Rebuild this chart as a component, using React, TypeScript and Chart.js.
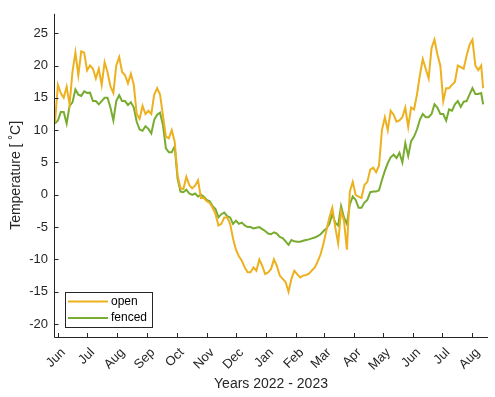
import React, { useEffect, useRef } from "react";
import { Chart, registerables } from "chart.js";

Chart.register(...registerables);

// Days counted from 1 June 2022
const days = [
  -3, 0, 3, 6, 9, 12, 15, 18, 21, 24, 27, 30, 33, 36, 39, 42, 45, 48, 51, 54,
  57, 60, 63, 66, 69, 72, 75, 78, 81, 84, 87, 90, 93, 96, 99, 102, 105, 108, 111, 114,
  117, 120, 123, 126, 129, 132, 135, 138, 141, 144, 147, 150, 153, 156, 159, 162, 165, 168, 171, 174,
  177, 180, 183, 186, 189, 192, 195, 198, 201, 204, 207, 210, 213, 216, 219, 222, 225, 228, 231, 234,
  237, 240, 243, 246, 249, 252, 255, 258, 261, 264, 267, 270, 273, 276, 279, 282, 285, 288, 291, 294,
  297, 300, 303, 306, 309, 312, 315, 318, 321, 324, 327, 330, 333, 336, 339, 342, 345, 348, 351, 354,
  357, 360, 363, 366, 369, 372, 375, 378, 381, 384, 387, 390, 393, 396, 399, 402, 405, 408, 411, 414,
  417, 420, 423, 426, 429, 432, 435, 437,
];

const openTemp = [
  11.2, 17, 15.7, 15, 16.7, 14, 19, 22, 18.5, 22.2, 22, 19.25, 20, 19.5, 18, 19.5, 17, 20.5, 19, 16.75,
  15.75, 20, 21.3, 19, 18.5, 17.25, 18.75, 17, 12.5, 11.75, 13.75, 12.5, 13, 12.5, 15.5, 16.5, 15.5, 12.25, 9, 8.75,
  10, 8.25, 3, 1, 0.9, 2.8, 1.5, 1, 1.4, 2.25, -0.5, -0.5, -1, -1.25, -2, -3, -4.75, -4.5, -3.5, -3.5,
  -4.5, -6.75, -8.5, -9.5, -10.2, -11.25, -12, -12, -11.25, -11.75, -10, -11, -12.25, -12, -11.5, -10, -11, -12.5, -13, -13.5,
  -15, -13, -11.75, -12.3, -12.8, -12.5, -12.4, -12.2, -11.7, -11.25, -10.3, -9.2, -7.5, -5.5, -3.5, -2, -5, -7.5, -2.5, -4,
  -8.5, 0.5, 2, 0, -0.3, -0.5, 1.5, 2, 3.9, 4.2, 3.5, 4.5, 10, 12, 10, 13, 12.4, 11.3, 11.5, 12,
  13.5, 10.5, 13.5, 13.2, 15.5, 18.5, 21, 19.5, 18, 22.7, 24, 21.7, 20, 14.5, 16.5, 16.5, 17, 17.5, 20, 19.75,
  19.5, 21.5, 23.2, 24, 20, 19.3, 20, 16.5,
];

const fencedTemp = [
  11, 11.5, 12.8, 12.8, 11, 13.75, 14.3, 16.3, 15.5, 15.3, 16, 15.75, 15.8, 14.5, 14.5, 14, 14.5, 15, 15, 13.5,
  11.5, 14.5, 15.4, 14.5, 14.5, 13.9, 14.3, 13.5, 11.3, 10.1, 9.9, 10.6, 10.2, 9.5, 11.6, 12.4, 12.7, 10.75, 7.2, 6.6,
  6.6, 7.5, 2.5, 0.5, 0.4, 0.8, 0.2, 0, 0.2, -0.25, 0, -0.3, -0.8, -1, -1.75, -2.2, -3.5, -3, -2.75, -3.3,
  -3.5, -4.5, -4, -4.5, -4.3, -4.75, -5, -5, -5.2, -5.1, -5, -5.3, -5.6, -6, -6.1, -5.8, -6, -6.5, -6.7, -7.2,
  -7.75, -7, -7.2, -7.25, -7.25, -7.1, -7, -6.9, -6.75, -6.6, -6.4, -6.1, -5.6, -5.2, -4.5, -3, -4.3, -4.75, -1.75, -3.5,
  -4.5, -1.5, -0.25, -0.8, -2, -2, -1.2, -0.8, 0.4, 0.5, 0.5, 0.7, 2.3, 3.7, 4.9, 5.8, 6.2, 5.7, 6.5, 5,
  8, 6, 8.3, 9, 10.1, 11.6, 12.5, 12, 12, 12.5, 14, 13.5, 12.5, 12.5, 11.5, 13.2, 13, 14, 14.5, 13.6,
  14.4, 14.5, 15.5, 16.5, 15.6, 15.6, 15.75, 14,
];

const monthTickDays = [0, 30, 61, 92, 122, 153, 183, 214, 245, 273, 304, 334, 365, 395, 426];
const monthTickLabels = ["Jun", "Jul", "Aug", "Sep", "Oct", "Nov", "Dec", "Jan", "Feb", "Mar", "Apr", "May", "Jun", "Jul", "Aug"];
const yTickValues = [-20, -15, -10, -5, 0, 5, 10, 15, 20, 25];
const seriesLabels = ["open", "fenced"];
const seriesColors = ["#EDB120", "#77AC30"];
const xTitle = "Years 2022 - 2023";
const yTitle = "Temperature [ \u02DAC]";

const FONT = "'Liberation Sans', Arial, Helvetica, sans-serif";
const TEXT = "#262626";

const axesPlugin = {
  id: "matlabAxes",
  afterDatasetsDraw(chart: any) {
    const { ctx, chartArea, scales } = chart;
    const { left, right, top, bottom } = chartArea;
    ctx.save();
    ctx.strokeStyle = TEXT;
    ctx.lineWidth = 1;
    ctx.beginPath();
    ctx.moveTo(left + 0.5, top);
    ctx.lineTo(left + 0.5, bottom + 0.5);
    ctx.lineTo(right, bottom + 0.5);
    ctx.stroke();
    ctx.beginPath();
    for (const v of yTickValues) {
      const y = Math.round(scales.y.getPixelForValue(v)) + 0.5;
      ctx.moveTo(left, y);
      ctx.lineTo(left + 4.5, y);
    }
    for (const d of monthTickDays) {
      const x = Math.round(scales.x.getPixelForValue(d)) + 0.5;
      ctx.moveTo(x, bottom + 0.5);
      ctx.lineTo(x, bottom - 4);
    }
    ctx.stroke();

    // rotated month labels (MATLAB style: end of label down-right of the tick)
    ctx.fillStyle = TEXT;
    ctx.font = `13px ${FONT}`;
    ctx.textAlign = "right";
    ctx.textBaseline = "middle";
    monthTickDays.forEach((d, i) => {
      const x = scales.x.getPixelForValue(d);
      ctx.save();
      ctx.translate(x + 5.5, bottom + 13.5);
      ctx.rotate(-Math.PI / 4);
      ctx.fillText(monthTickLabels[i], 0, 0);
      ctx.restore();
    });

    // legend box
    const bx = left + 11, by = bottom - 45, bw = 87, bh = 35;
    ctx.fillStyle = "#ffffff";
    ctx.fillRect(bx, by, bw, bh);
    ctx.strokeStyle = "#262626";
    ctx.lineWidth = 1;
    ctx.strokeRect(bx + 0.5, by + 0.5, bw, bh);
    ctx.font = `12px ${FONT}`;
    ctx.textBaseline = "middle";
    ctx.textAlign = "left";
    seriesLabels.forEach((lab, i) => {
      const yy = by + 9.5 + i * 16.5;
      ctx.strokeStyle = seriesColors[i];
      ctx.lineWidth = 2;
      ctx.beginPath();
      ctx.moveTo(bx + 3, yy);
      ctx.lineTo(bx + 43, yy);
      ctx.stroke();
      ctx.fillStyle = "#000000";
      ctx.fillText(lab, bx + 46, yy);
    });
    ctx.restore();
  },
};

export default function App() {
  const ref = useRef<HTMLCanvasElement>(null);
  useEffect(() => {
    const chart = new Chart(ref.current as HTMLCanvasElement, {
      type: "line",
      data: {
        datasets: [
          {
            label: seriesLabels[0],
            data: days.map((d, i) => ({ x: d, y: openTemp[i] })),
            borderColor: seriesColors[0],
            backgroundColor: seriesColors[0],
            borderWidth: 2,
            pointRadius: 0,
            tension: 0,
          },
          {
            label: seriesLabels[1],
            data: days.map((d, i) => ({ x: d, y: fencedTemp[i] })),
            borderColor: seriesColors[1],
            backgroundColor: seriesColors[1],
            borderWidth: 2,
            pointRadius: 0,
            tension: 0,
          },
        ],
      },
      options: {
        animation: false,
        responsive: false,
        devicePixelRatio: 1,
        layout: { padding: { left: 0, top: 5, right: 7, bottom: 0 } },
        plugins: { legend: { display: false }, tooltip: { enabled: false } },
        scales: {
          x: {
            type: "linear",
            min: -4,
            max: 442,
            afterBuildTicks: (s: any) => {
              s.ticks = monthTickDays.map((v) => ({ value: v }));
            },
            afterFit: (s: any) => {
              s.height = 60;
            },
            ticks: {
              display: false,
              autoSkip: false,
              callback: (_v: any, i: number) => monthTickLabels[i],
            },
            grid: { display: false, drawTicks: false },
            border: { display: false },
            title: {
              display: true,
              text: xTitle,
              color: TEXT,
              font: { size: 14, family: FONT },
              padding: { top: 0, bottom: 4 },
            },
          },
          y: {
            type: "linear",
            min: -22,
            max: 28,
            afterBuildTicks: (s: any) => {
              s.ticks = yTickValues.map((v) => ({ value: v }));
            },
            afterFit: (s: any) => {
              s.width = 54;
            },
            ticks: {
              padding: 6,
              color: TEXT,
              font: { size: 13, family: FONT },
            },
            grid: { display: false, drawTicks: false },
            border: { display: false },
            title: {
              display: true,
              text: yTitle,
              color: TEXT,
              font: { size: 14, family: FONT },
              padding: { top: 8, bottom: 0 },
            },
          },
        },
      },
      plugins: [axesPlugin],
    } as any);
    return () => chart.destroy();
  }, []);
  return (
    <div style={{ position: "fixed", left: 0, top: 0, width: 495, height: 397, background: "#ffffff" }}>
      <canvas ref={ref} width={495} height={397} style={{ width: 495, height: 397, display: "block" }} />
    </div>
  );
}
